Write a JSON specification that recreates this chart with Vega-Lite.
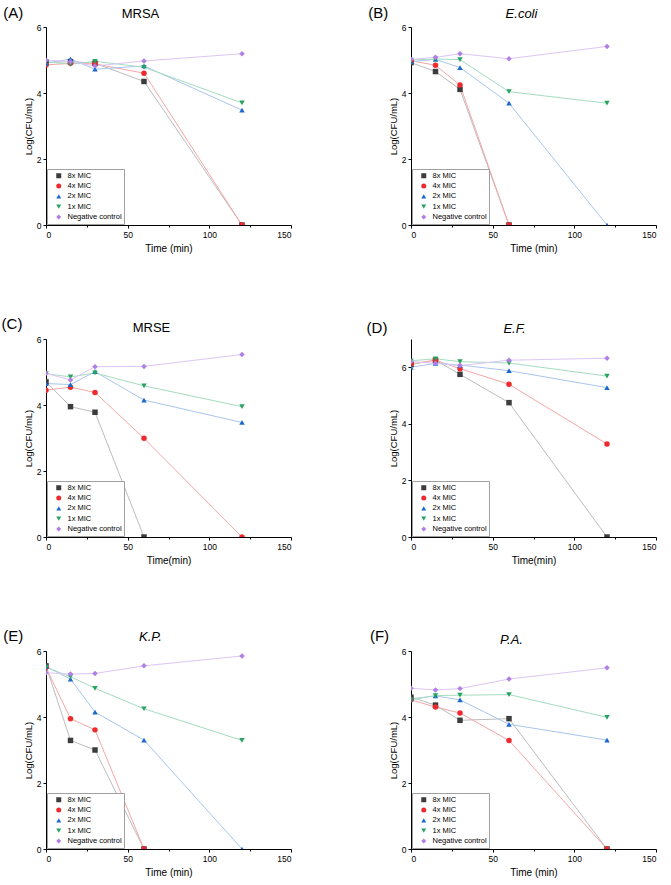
{
 "$schema": "https://vega.github.io/schema/vega-lite/v6.json",
 "padding": {"left": 1, "top": 6, "right": 3, "bottom": 3},
 "config": {
  "font": "Liberation Sans",
  "view": {"stroke": null},
  "axis": {"domainColor": "black", "tickColor": "black", "labelColor": "black", "titleColor": "black", "labelFontSize": 8.5, "titleFontSize": 10, "titleFontWeight": "normal", "grid": false, "tickSize": 3, "labelPadding": 2, "titlePadding": 5},
  "axisY": {"titleFontSize": 9.5, "titlePadding": 3},
  "title": {"orient": "left", "angle": 0, "anchor": "end", "align": "left", "baseline": "top", "fontSize": 15, "fontWeight": "normal", "offset": -20, "dy": -21, "frame": "group", "color": "black"}
 },
 "data": {"values": [
  {"panel": "A", "series": "8x MIC", "time": 0, "value": 4.92},
  {"panel": "A", "series": "8x MIC", "time": 15, "value": 4.95},
  {"panel": "A", "series": "8x MIC", "time": 30, "value": 4.9},
  {"panel": "A", "series": "8x MIC", "time": 60, "value": 4.35},
  {"panel": "A", "series": "8x MIC", "time": 120, "value": 0},
  {"panel": "A", "series": "4x MIC", "time": 0, "value": 4.85},
  {"panel": "A", "series": "4x MIC", "time": 15, "value": 4.9},
  {"panel": "A", "series": "4x MIC", "time": 30, "value": 4.88},
  {"panel": "A", "series": "4x MIC", "time": 60, "value": 4.6},
  {"panel": "A", "series": "4x MIC", "time": 120, "value": 0},
  {"panel": "A", "series": "2x MIC", "time": 0, "value": 4.9},
  {"panel": "A", "series": "2x MIC", "time": 15, "value": 5.03},
  {"panel": "A", "series": "2x MIC", "time": 30, "value": 4.72},
  {"panel": "A", "series": "2x MIC", "time": 60, "value": 4.82},
  {"panel": "A", "series": "2x MIC", "time": 120, "value": 3.48},
  {"panel": "A", "series": "1x MIC", "time": 0, "value": 4.95},
  {"panel": "A", "series": "1x MIC", "time": 15, "value": 4.87},
  {"panel": "A", "series": "1x MIC", "time": 30, "value": 4.96},
  {"panel": "A", "series": "1x MIC", "time": 60, "value": 4.78},
  {"panel": "A", "series": "1x MIC", "time": 120, "value": 3.7},
  {"panel": "A", "series": "Negative control", "time": 0, "value": 5.0},
  {"panel": "A", "series": "Negative control", "time": 15, "value": 4.95},
  {"panel": "A", "series": "Negative control", "time": 30, "value": 4.82},
  {"panel": "A", "series": "Negative control", "time": 60, "value": 4.97},
  {"panel": "A", "series": "Negative control", "time": 120, "value": 5.19},
  {"panel": "B", "series": "8x MIC", "time": 0, "value": 4.92},
  {"panel": "B", "series": "8x MIC", "time": 15, "value": 4.65},
  {"panel": "B", "series": "8x MIC", "time": 30, "value": 4.11},
  {"panel": "B", "series": "8x MIC", "time": 60, "value": 0},
  {"panel": "B", "series": "4x MIC", "time": 0, "value": 4.98},
  {"panel": "B", "series": "4x MIC", "time": 15, "value": 4.84},
  {"panel": "B", "series": "4x MIC", "time": 30, "value": 4.24},
  {"panel": "B", "series": "4x MIC", "time": 60, "value": 0},
  {"panel": "B", "series": "2x MIC", "time": 0, "value": 4.95},
  {"panel": "B", "series": "2x MIC", "time": 15, "value": 5.02},
  {"panel": "B", "series": "2x MIC", "time": 30, "value": 4.77},
  {"panel": "B", "series": "2x MIC", "time": 60, "value": 3.69},
  {"panel": "B", "series": "2x MIC", "time": 120, "value": 0},
  {"panel": "B", "series": "1x MIC", "time": 0, "value": 5.0},
  {"panel": "B", "series": "1x MIC", "time": 15, "value": 5.03},
  {"panel": "B", "series": "1x MIC", "time": 30, "value": 5.01},
  {"panel": "B", "series": "1x MIC", "time": 60, "value": 4.04},
  {"panel": "B", "series": "1x MIC", "time": 120, "value": 3.69},
  {"panel": "B", "series": "Negative control", "time": 0, "value": 5.02},
  {"panel": "B", "series": "Negative control", "time": 15, "value": 5.08},
  {"panel": "B", "series": "Negative control", "time": 30, "value": 5.19},
  {"panel": "B", "series": "Negative control", "time": 60, "value": 5.04},
  {"panel": "B", "series": "Negative control", "time": 120, "value": 5.41},
  {"panel": "C", "series": "8x MIC", "time": 0, "value": 4.7},
  {"panel": "C", "series": "8x MIC", "time": 15, "value": 3.95},
  {"panel": "C", "series": "8x MIC", "time": 30, "value": 3.78},
  {"panel": "C", "series": "8x MIC", "time": 60, "value": 0},
  {"panel": "C", "series": "4x MIC", "time": 0, "value": 4.45},
  {"panel": "C", "series": "4x MIC", "time": 15, "value": 4.54},
  {"panel": "C", "series": "4x MIC", "time": 30, "value": 4.38},
  {"panel": "C", "series": "4x MIC", "time": 60, "value": 2.99},
  {"panel": "C", "series": "4x MIC", "time": 120, "value": 0},
  {"panel": "C", "series": "2x MIC", "time": 0, "value": 4.65},
  {"panel": "C", "series": "2x MIC", "time": 15, "value": 4.62},
  {"panel": "C", "series": "2x MIC", "time": 30, "value": 5.01},
  {"panel": "C", "series": "2x MIC", "time": 60, "value": 4.15},
  {"panel": "C", "series": "2x MIC", "time": 120, "value": 3.47},
  {"panel": "C", "series": "1x MIC", "time": 0, "value": 4.95},
  {"panel": "C", "series": "1x MIC", "time": 15, "value": 4.85},
  {"panel": "C", "series": "1x MIC", "time": 30, "value": 4.97},
  {"panel": "C", "series": "1x MIC", "time": 60, "value": 4.58},
  {"panel": "C", "series": "1x MIC", "time": 120, "value": 3.95},
  {"panel": "C", "series": "Negative control", "time": 0, "value": 4.96},
  {"panel": "C", "series": "Negative control", "time": 15, "value": 4.76},
  {"panel": "C", "series": "Negative control", "time": 30, "value": 5.16},
  {"panel": "C", "series": "Negative control", "time": 60, "value": 5.17},
  {"panel": "C", "series": "Negative control", "time": 120, "value": 5.53},
  {"panel": "D", "series": "8x MIC", "time": 0, "value": 6.1},
  {"panel": "D", "series": "8x MIC", "time": 15, "value": 6.25},
  {"panel": "D", "series": "8x MIC", "time": 30, "value": 5.75},
  {"panel": "D", "series": "8x MIC", "time": 60, "value": 4.75},
  {"panel": "D", "series": "8x MIC", "time": 120, "value": 0},
  {"panel": "D", "series": "4x MIC", "time": 0, "value": 6.12},
  {"panel": "D", "series": "4x MIC", "time": 15, "value": 6.25},
  {"panel": "D", "series": "4x MIC", "time": 30, "value": 5.95},
  {"panel": "D", "series": "4x MIC", "time": 60, "value": 5.4},
  {"panel": "D", "series": "4x MIC", "time": 120, "value": 3.29},
  {"panel": "D", "series": "2x MIC", "time": 0, "value": 6.0},
  {"panel": "D", "series": "2x MIC", "time": 15, "value": 6.14},
  {"panel": "D", "series": "2x MIC", "time": 30, "value": 6.08},
  {"panel": "D", "series": "2x MIC", "time": 60, "value": 5.88},
  {"panel": "D", "series": "2x MIC", "time": 120, "value": 5.28},
  {"panel": "D", "series": "1x MIC", "time": 0, "value": 6.23},
  {"panel": "D", "series": "1x MIC", "time": 15, "value": 6.3},
  {"panel": "D", "series": "1x MIC", "time": 30, "value": 6.2},
  {"panel": "D", "series": "1x MIC", "time": 60, "value": 6.15},
  {"panel": "D", "series": "1x MIC", "time": 120, "value": 5.69},
  {"panel": "D", "series": "Negative control", "time": 0, "value": 6.2},
  {"panel": "D", "series": "Negative control", "time": 15, "value": 6.14},
  {"panel": "D", "series": "Negative control", "time": 30, "value": 6.06},
  {"panel": "D", "series": "Negative control", "time": 60, "value": 6.25},
  {"panel": "D", "series": "Negative control", "time": 120, "value": 6.32},
  {"panel": "E", "series": "8x MIC", "time": 0, "value": 5.55},
  {"panel": "E", "series": "8x MIC", "time": 15, "value": 3.29},
  {"panel": "E", "series": "8x MIC", "time": 30, "value": 3.0},
  {"panel": "E", "series": "8x MIC", "time": 60, "value": 0},
  {"panel": "E", "series": "4x MIC", "time": 0, "value": 5.5},
  {"panel": "E", "series": "4x MIC", "time": 15, "value": 3.95},
  {"panel": "E", "series": "4x MIC", "time": 30, "value": 3.61},
  {"panel": "E", "series": "4x MIC", "time": 60, "value": 0},
  {"panel": "E", "series": "2x MIC", "time": 0, "value": 5.53},
  {"panel": "E", "series": "2x MIC", "time": 15, "value": 5.15},
  {"panel": "E", "series": "2x MIC", "time": 30, "value": 4.15},
  {"panel": "E", "series": "2x MIC", "time": 60, "value": 3.3},
  {"panel": "E", "series": "2x MIC", "time": 120, "value": 0},
  {"panel": "E", "series": "1x MIC", "time": 0, "value": 5.51},
  {"panel": "E", "series": "1x MIC", "time": 15, "value": 5.22},
  {"panel": "E", "series": "1x MIC", "time": 30, "value": 4.87},
  {"panel": "E", "series": "1x MIC", "time": 60, "value": 4.25},
  {"panel": "E", "series": "1x MIC", "time": 120, "value": 3.29},
  {"panel": "E", "series": "Negative control", "time": 0, "value": 5.34},
  {"panel": "E", "series": "Negative control", "time": 15, "value": 5.3},
  {"panel": "E", "series": "Negative control", "time": 30, "value": 5.32},
  {"panel": "E", "series": "Negative control", "time": 60, "value": 5.55},
  {"panel": "E", "series": "Negative control", "time": 120, "value": 5.85},
  {"panel": "F", "series": "8x MIC", "time": 0, "value": 4.6},
  {"panel": "F", "series": "8x MIC", "time": 15, "value": 4.36},
  {"panel": "F", "series": "8x MIC", "time": 30, "value": 3.9},
  {"panel": "F", "series": "8x MIC", "time": 60, "value": 3.95},
  {"panel": "F", "series": "8x MIC", "time": 120, "value": 0},
  {"panel": "F", "series": "4x MIC", "time": 0, "value": 4.52},
  {"panel": "F", "series": "4x MIC", "time": 15, "value": 4.3},
  {"panel": "F", "series": "4x MIC", "time": 30, "value": 4.12},
  {"panel": "F", "series": "4x MIC", "time": 60, "value": 3.29},
  {"panel": "F", "series": "4x MIC", "time": 120, "value": 0},
  {"panel": "F", "series": "2x MIC", "time": 0, "value": 4.55},
  {"panel": "F", "series": "2x MIC", "time": 15, "value": 4.64},
  {"panel": "F", "series": "2x MIC", "time": 30, "value": 4.52},
  {"panel": "F", "series": "2x MIC", "time": 60, "value": 3.78},
  {"panel": "F", "series": "2x MIC", "time": 120, "value": 3.3},
  {"panel": "F", "series": "1x MIC", "time": 0, "value": 4.52},
  {"panel": "F", "series": "1x MIC", "time": 15, "value": 4.65},
  {"panel": "F", "series": "1x MIC", "time": 30, "value": 4.66},
  {"panel": "F", "series": "1x MIC", "time": 60, "value": 4.68},
  {"panel": "F", "series": "1x MIC", "time": 120, "value": 3.99},
  {"panel": "F", "series": "Negative control", "time": 0, "value": 4.87},
  {"panel": "F", "series": "Negative control", "time": 15, "value": 4.82},
  {"panel": "F", "series": "Negative control", "time": 30, "value": 4.86},
  {"panel": "F", "series": "Negative control", "time": 60, "value": 5.15},
  {"panel": "F", "series": "Negative control", "time": 120, "value": 5.49}
 ]},
 "columns": 2,
 "spacing": {"row": 63, "column": 74},
 "resolve": {"scale": {"fill": "independent", "shape": "independent", "stroke": "independent"}, "legend": {"fill": "independent", "shape": "independent"}},
 "concat": [
  {
   "width": 245, "height": 198,
   "title": {"text": "(A)", "dy": -21},
   "transform": [{"filter": "datum.panel === 'A'"}],
   "layer": [
    {"mark": {"type": "line", "strokeWidth": 1, "clip": true},
     "encoding": {
      "x": {"field": "time", "type": "quantitative", "scale": {"domain": [0, 150]}, "axis": {"title": "Time (min)", "values": [0, 25, 50, 75, 100, 125, 150], "labelExpr": "datum.value % 50 === 0 ? datum.label : ''", "tickSize": {"condition": {"test": "datum.value % 50 !== 0", "value": 2}, "value": 3}}},
      "y": {"field": "value", "type": "quantitative", "scale": {"domain": [0, 6], "nice": false}, "axis": {"title": "Log(CFU/mL)", "values": [0, 2, 4, 6]}},
      "stroke": {"field": "series", "type": "nominal", "scale": {"domain": ["Negative control", "1x MIC", "2x MIC", "4x MIC", "8x MIC"], "range": ["#dcc6f5", "#a5dcc0", "#a6c6ef", "#f6a6a6", "#bcbcbc"]}, "legend": null}
     }},
    {"mark": {"type": "point", "filled": true, "size": 30, "opacity": 1, "clip": true},
     "encoding": {
      "x": {"field": "time", "type": "quantitative", "scale": {"domain": [0, 150]}, "axis": {"orient": "top", "title": "MRSA", "labels": false, "ticks": false, "domain": false, "titleX": 94, "titleY": -10, "titleFontSize": 13, "titleBaseline": "alphabetic", "titleAlign": "center", "titleFontStyle": "normal"}},
      "y": {"field": "value", "type": "quantitative"},
      "fill": {"field": "series", "type": "nominal", "scale": {"domain": ["8x MIC", "4x MIC", "2x MIC", "1x MIC", "Negative control"], "range": ["#3c3c3c", "#ee2a2e", "#1c68cc", "#27a35e", "#b17ee6"]}, "legend": {"title": null, "orient": "bottom-left", "offset": 1, "padding": 2, "strokeColor": "#a0a0a0", "fillColor": "white", "labelFontSize": 7.5, "labelColor": "black", "symbolSize": 25, "rowPadding": 0.3, "clipHeight": 9.5, "symbolOffset": 6, "labelOffset": 5}},
      "shape": {"field": "series", "type": "nominal", "scale": {"domain": ["8x MIC", "4x MIC", "2x MIC", "1x MIC", "Negative control"], "range": ["square", "circle", "triangle-up", "triangle-down", "diamond"]}, "legend": {"title": null, "orient": "bottom-left", "symbolSize": 25, "rowPadding": 0.3, "clipHeight": 9.5}}
     }}
   ],
   "resolve": {"scale": {"x": "independent"}}
  },
  {
   "width": 245, "height": 198,
   "title": {"text": "(B)", "dy": -21},
   "transform": [{"filter": "datum.panel === 'B'"}],
   "layer": [
    {"mark": {"type": "line", "strokeWidth": 1, "clip": true},
     "encoding": {
      "x": {"field": "time", "type": "quantitative", "scale": {"domain": [0, 150]}, "axis": {"title": "Time (min)", "values": [0, 25, 50, 75, 100, 125, 150], "labelExpr": "datum.value % 50 === 0 ? datum.label : ''", "tickSize": {"condition": {"test": "datum.value % 50 !== 0", "value": 2}, "value": 3}}},
      "y": {"field": "value", "type": "quantitative", "scale": {"domain": [0, 6], "nice": false}, "axis": {"title": "Log(CFU/mL)", "values": [0, 2, 4, 6]}},
      "stroke": {"field": "series", "type": "nominal", "scale": {"domain": ["Negative control", "1x MIC", "2x MIC", "4x MIC", "8x MIC"], "range": ["#dcc6f5", "#a5dcc0", "#a6c6ef", "#f6a6a6", "#bcbcbc"]}, "legend": null}
     }},
    {"mark": {"type": "point", "filled": true, "size": 30, "opacity": 1, "clip": true},
     "encoding": {
      "x": {"field": "time", "type": "quantitative", "scale": {"domain": [0, 150]}, "axis": {"orient": "top", "title": "E.coli", "labels": false, "ticks": false, "domain": false, "titleX": 110, "titleY": -10, "titleFontSize": 13, "titleBaseline": "alphabetic", "titleAlign": "center", "titleFontStyle": "italic"}},
      "y": {"field": "value", "type": "quantitative"},
      "fill": {"field": "series", "type": "nominal", "scale": {"domain": ["8x MIC", "4x MIC", "2x MIC", "1x MIC", "Negative control"], "range": ["#3c3c3c", "#ee2a2e", "#1c68cc", "#27a35e", "#b17ee6"]}, "legend": {"title": null, "orient": "bottom-left", "offset": 1, "padding": 2, "strokeColor": "#a0a0a0", "fillColor": "white", "labelFontSize": 7.5, "labelColor": "black", "symbolSize": 25, "rowPadding": 0.3, "clipHeight": 9.5, "symbolOffset": 6, "labelOffset": 5}},
      "shape": {"field": "series", "type": "nominal", "scale": {"domain": ["8x MIC", "4x MIC", "2x MIC", "1x MIC", "Negative control"], "range": ["square", "circle", "triangle-up", "triangle-down", "diamond"]}, "legend": {"title": null, "orient": "bottom-left", "symbolSize": 25, "rowPadding": 0.3, "clipHeight": 9.5}}
     }}
   ],
   "resolve": {"scale": {"x": "independent"}}
  },
  {
   "width": 245, "height": 198,
   "title": {"text": "(C)", "dy": -22},
   "transform": [{"filter": "datum.panel === 'C'"}],
   "layer": [
    {"mark": {"type": "line", "strokeWidth": 1, "clip": true},
     "encoding": {
      "x": {"field": "time", "type": "quantitative", "scale": {"domain": [0, 150]}, "axis": {"title": "Time(min)", "values": [0, 25, 50, 75, 100, 125, 150], "labelExpr": "datum.value % 50 === 0 ? datum.label : ''", "tickSize": {"condition": {"test": "datum.value % 50 !== 0", "value": 2}, "value": 3}}},
      "y": {"field": "value", "type": "quantitative", "scale": {"domain": [0, 6], "nice": false}, "axis": {"title": "Log(CFU/mL)", "values": [0, 2, 4, 6]}},
      "stroke": {"field": "series", "type": "nominal", "scale": {"domain": ["Negative control", "1x MIC", "2x MIC", "4x MIC", "8x MIC"], "range": ["#dcc6f5", "#a5dcc0", "#a6c6ef", "#f6a6a6", "#bcbcbc"]}, "legend": null}
     }},
    {"mark": {"type": "point", "filled": true, "size": 30, "opacity": 1, "clip": true},
     "encoding": {
      "x": {"field": "time", "type": "quantitative", "scale": {"domain": [0, 150]}, "axis": {"orient": "top", "title": "MRSE", "labels": false, "ticks": false, "domain": false, "titleX": 105, "titleY": -8, "titleFontSize": 13, "titleBaseline": "alphabetic", "titleAlign": "center", "titleFontStyle": "normal"}},
      "y": {"field": "value", "type": "quantitative"},
      "fill": {"field": "series", "type": "nominal", "scale": {"domain": ["8x MIC", "4x MIC", "2x MIC", "1x MIC", "Negative control"], "range": ["#3c3c3c", "#ee2a2e", "#1c68cc", "#27a35e", "#b17ee6"]}, "legend": {"title": null, "orient": "bottom-left", "offset": 1, "padding": 2, "strokeColor": "#a0a0a0", "fillColor": "white", "labelFontSize": 7.5, "labelColor": "black", "symbolSize": 25, "rowPadding": 0.3, "clipHeight": 9.5, "symbolOffset": 6, "labelOffset": 5}},
      "shape": {"field": "series", "type": "nominal", "scale": {"domain": ["8x MIC", "4x MIC", "2x MIC", "1x MIC", "Negative control"], "range": ["square", "circle", "triangle-up", "triangle-down", "diamond"]}, "legend": {"title": null, "orient": "bottom-left", "symbolSize": 25, "rowPadding": 0.3, "clipHeight": 9.5}}
     }}
   ],
   "resolve": {"scale": {"x": "independent"}}
  },
  {
   "width": 245, "height": 198,
   "title": {"text": "(D)", "dy": -18},
   "transform": [{"filter": "datum.panel === 'D'"}],
   "layer": [
    {"mark": {"type": "line", "strokeWidth": 1, "clip": true},
     "encoding": {
      "x": {"field": "time", "type": "quantitative", "scale": {"domain": [0, 150]}, "axis": {"title": "Time(min)", "values": [0, 25, 50, 75, 100, 125, 150], "labelExpr": "datum.value % 50 === 0 ? datum.label : ''", "tickSize": {"condition": {"test": "datum.value % 50 !== 0", "value": 2}, "value": 3}}},
      "y": {"field": "value", "type": "quantitative", "scale": {"domain": [0, 7], "nice": false}, "axis": {"title": "Log(CFU/mL)", "values": [0, 2, 4, 6]}},
      "stroke": {"field": "series", "type": "nominal", "scale": {"domain": ["Negative control", "1x MIC", "2x MIC", "4x MIC", "8x MIC"], "range": ["#dcc6f5", "#a5dcc0", "#a6c6ef", "#f6a6a6", "#bcbcbc"]}, "legend": null}
     }},
    {"mark": {"type": "point", "filled": true, "size": 30, "opacity": 1, "clip": true},
     "encoding": {
      "x": {"field": "time", "type": "quantitative", "scale": {"domain": [0, 150]}, "axis": {"orient": "top", "title": "E.F.", "labels": false, "ticks": false, "domain": false, "titleX": 103, "titleY": -7, "titleFontSize": 13, "titleBaseline": "alphabetic", "titleAlign": "center", "titleFontStyle": "italic"}},
      "y": {"field": "value", "type": "quantitative"},
      "fill": {"field": "series", "type": "nominal", "scale": {"domain": ["8x MIC", "4x MIC", "2x MIC", "1x MIC", "Negative control"], "range": ["#3c3c3c", "#ee2a2e", "#1c68cc", "#27a35e", "#b17ee6"]}, "legend": {"title": null, "orient": "bottom-left", "offset": 1, "padding": 2, "strokeColor": "#a0a0a0", "fillColor": "white", "labelFontSize": 7.5, "labelColor": "black", "symbolSize": 25, "rowPadding": 0.3, "clipHeight": 9.5, "symbolOffset": 6, "labelOffset": 5}},
      "shape": {"field": "series", "type": "nominal", "scale": {"domain": ["8x MIC", "4x MIC", "2x MIC", "1x MIC", "Negative control"], "range": ["square", "circle", "triangle-up", "triangle-down", "diamond"]}, "legend": {"title": null, "orient": "bottom-left", "symbolSize": 25, "rowPadding": 0.3, "clipHeight": 9.5}}
     }}
   ],
   "resolve": {"scale": {"x": "independent"}}
  },
  {
   "width": 245, "height": 198,
   "title": {"text": "(E)", "dy": -22},
   "transform": [{"filter": "datum.panel === 'E'"}],
   "layer": [
    {"mark": {"type": "line", "strokeWidth": 1, "clip": true},
     "encoding": {
      "x": {"field": "time", "type": "quantitative", "scale": {"domain": [0, 150]}, "axis": {"title": "Time (min)", "values": [0, 25, 50, 75, 100, 125, 150], "labelExpr": "datum.value % 50 === 0 ? datum.label : ''", "tickSize": {"condition": {"test": "datum.value % 50 !== 0", "value": 2}, "value": 3}}},
      "y": {"field": "value", "type": "quantitative", "scale": {"domain": [0, 6], "nice": false}, "axis": {"title": "Log(CFU/mL)", "values": [0, 2, 4, 6]}},
      "stroke": {"field": "series", "type": "nominal", "scale": {"domain": ["Negative control", "1x MIC", "2x MIC", "4x MIC", "8x MIC"], "range": ["#dcc6f5", "#a5dcc0", "#a6c6ef", "#f6a6a6", "#bcbcbc"]}, "legend": null}
     }},
    {"mark": {"type": "point", "filled": true, "size": 30, "opacity": 1, "clip": true},
     "encoding": {
      "x": {"field": "time", "type": "quantitative", "scale": {"domain": [0, 150]}, "axis": {"orient": "top", "title": "K.P.", "labels": false, "ticks": false, "domain": false, "titleX": 104, "titleY": -11, "titleFontSize": 13, "titleBaseline": "alphabetic", "titleAlign": "center", "titleFontStyle": "italic"}},
      "y": {"field": "value", "type": "quantitative"},
      "fill": {"field": "series", "type": "nominal", "scale": {"domain": ["8x MIC", "4x MIC", "2x MIC", "1x MIC", "Negative control"], "range": ["#3c3c3c", "#ee2a2e", "#1c68cc", "#27a35e", "#b17ee6"]}, "legend": {"title": null, "orient": "bottom-left", "offset": 1, "padding": 2, "strokeColor": "#a0a0a0", "fillColor": "white", "labelFontSize": 7.5, "labelColor": "black", "symbolSize": 25, "rowPadding": 0.3, "clipHeight": 9.5, "symbolOffset": 6, "labelOffset": 5}},
      "shape": {"field": "series", "type": "nominal", "scale": {"domain": ["8x MIC", "4x MIC", "2x MIC", "1x MIC", "Negative control"], "range": ["square", "circle", "triangle-up", "triangle-down", "diamond"]}, "legend": {"title": null, "orient": "bottom-left", "symbolSize": 25, "rowPadding": 0.3, "clipHeight": 9.5}}
     }}
   ],
   "resolve": {"scale": {"x": "independent"}}
  },
  {
   "width": 245, "height": 198,
   "title": {"text": "(F)", "dy": -22},
   "transform": [{"filter": "datum.panel === 'F'"}],
   "layer": [
    {"mark": {"type": "line", "strokeWidth": 1, "clip": true},
     "encoding": {
      "x": {"field": "time", "type": "quantitative", "scale": {"domain": [0, 150]}, "axis": {"title": "Time (min)", "values": [0, 25, 50, 75, 100, 125, 150], "labelExpr": "datum.value % 50 === 0 ? datum.label : ''", "tickSize": {"condition": {"test": "datum.value % 50 !== 0", "value": 2}, "value": 3}}},
      "y": {"field": "value", "type": "quantitative", "scale": {"domain": [0, 6], "nice": false}, "axis": {"title": "Log(CFU/mL)", "values": [0, 2, 4, 6]}},
      "stroke": {"field": "series", "type": "nominal", "scale": {"domain": ["Negative control", "1x MIC", "2x MIC", "4x MIC", "8x MIC"], "range": ["#dcc6f5", "#a5dcc0", "#a6c6ef", "#f6a6a6", "#bcbcbc"]}, "legend": null}
     }},
    {"mark": {"type": "point", "filled": true, "size": 30, "opacity": 1, "clip": true},
     "encoding": {
      "x": {"field": "time", "type": "quantitative", "scale": {"domain": [0, 150]}, "axis": {"orient": "top", "title": "P.A.", "labels": false, "ticks": false, "domain": false, "titleX": 100, "titleY": -8, "titleFontSize": 13, "titleBaseline": "alphabetic", "titleAlign": "center", "titleFontStyle": "italic"}},
      "y": {"field": "value", "type": "quantitative"},
      "fill": {"field": "series", "type": "nominal", "scale": {"domain": ["8x MIC", "4x MIC", "2x MIC", "1x MIC", "Negative control"], "range": ["#3c3c3c", "#ee2a2e", "#1c68cc", "#27a35e", "#b17ee6"]}, "legend": {"title": null, "orient": "bottom-left", "offset": 1, "padding": 2, "strokeColor": "#a0a0a0", "fillColor": "white", "labelFontSize": 7.5, "labelColor": "black", "symbolSize": 25, "rowPadding": 0.3, "clipHeight": 9.5, "symbolOffset": 6, "labelOffset": 5}},
      "shape": {"field": "series", "type": "nominal", "scale": {"domain": ["8x MIC", "4x MIC", "2x MIC", "1x MIC", "Negative control"], "range": ["square", "circle", "triangle-up", "triangle-down", "diamond"]}, "legend": {"title": null, "orient": "bottom-left", "symbolSize": 25, "rowPadding": 0.3, "clipHeight": 9.5}}
     }}
   ],
   "resolve": {"scale": {"x": "independent"}}
  }
 ]
}
